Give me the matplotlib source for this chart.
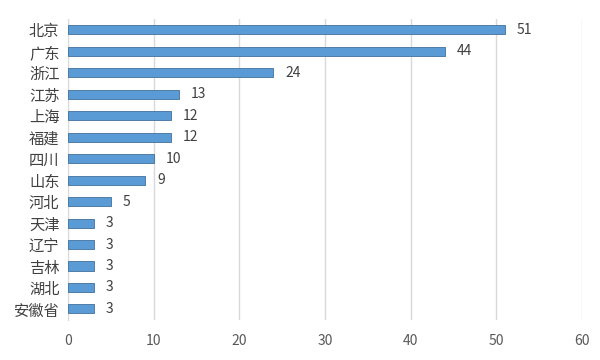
import matplotlib
matplotlib.use('Agg')
import matplotlib.pyplot as plt
import numpy as np

plt.rcParams['font.family'] = ['Noto Sans CJK SC', 'DejaVu Sans']
plt.rcParams['font.weight'] = 'light'

# provinces and counts, top to bottom
provinces = ['北京', '广东', '浙江', '江苏', '上海', '福建', '四川',
             '山东', '河北', '天津', '辽宁', '吉林', '湖北', '安徽省']
counts = [51, 44, 24, 13, 12, 12, 10, 9, 5, 3, 3, 3, 3, 3]
xticks = [0, 10, 20, 30, 40, 50, 60]

fig = plt.figure(figsize=(6, 3.6), dpi=100)
ax = fig.add_axes([0.113, 0.112, 0.857, 0.835])

y = np.arange(len(provinces))
ax.barh(y, counts, height=0.42, color='#5B9BD5', edgecolor='#41719C',
        linewidth=0.6, zorder=3)

# value labels next to the bars
for yi, v in zip(y, counts):
    ax.text(v + 1.4, yi, str(v), va='center', ha='left',
            fontsize=10, color='#404040')

ax.set_yticks(y)
ax.set_yticklabels(provinces, fontsize=11, color='#404040')
ax.set_ylim(len(provinces) - 0.5, -0.5)

ax.set_xlim(0, 60)
ax.set_xticks(xticks)
ax.set_xticklabels([str(t) for t in xticks], fontsize=10, color='#595959')
ax.xaxis.grid(True, color='#D9D9D9', linewidth=1, zorder=0)

ax.tick_params(length=0)
ax.tick_params(axis='x', pad=10)
ax.tick_params(axis='y', pad=6)
for side in ['top', 'right', 'bottom']:
    ax.spines[side].set_visible(False)
ax.spines['left'].set_color('#D9D9D9')

plt.savefig('out.png')
